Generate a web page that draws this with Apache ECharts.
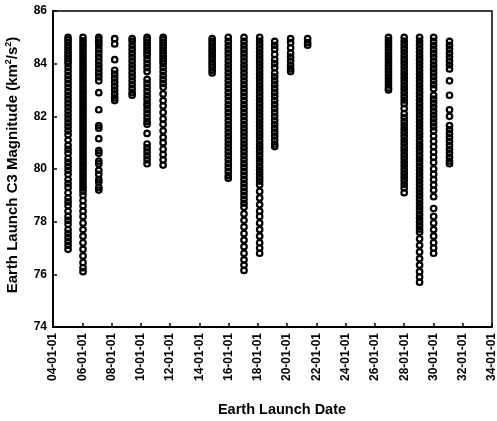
<!DOCTYPE html>
<html>
<head>
<meta charset="utf-8">
<script src="https://cdn.jsdelivr.net/npm/echarts@6/dist/echarts.min.js"></script>
<style>
html,body{margin:0;padding:0;background:#fff;}
#chart{width:497px;height:421px;}
</style>
</head>
<body>
<div id="chart"></div>
<script>
// Launch windows (date of each column of solutions)
const launchDates = ['2005-01-12','2006-01-20','2007-02-17','2008-03-20','2009-05-30','2010-06-07','2011-07-12',
  '2014-11-17','2015-12-24','2017-01-20','2018-02-15','2019-02-25','2020-03-28','2021-05-28',
  '2026-12-05','2028-01-01','2029-01-20','2030-01-05','2031-02-05'];

// Earth launch C3 (km^2/s^2) read from each column
const c3_2005 = [85.0,84.9,84.8,84.7,84.6,84.5,84.4,84.3,84.2,84.1,84.0,83.85,83.7,83.55,83.4,83.25,83.1,82.95,82.8,82.65,82.5,82.35,82.2,82.05,81.9,81.75,81.6,81.45,81.3,81.1,80.9,80.75,80.6,80.4,80.25,80.1,79.95,79.8,79.6,79.45,79.3,79.1,78.9,78.75,78.6,78.4,78.2,78.05,77.9,77.7,77.55,77.4,77.25,77.1,76.95];
const c3_2006 = [85.0,84.87,84.74,84.61,84.48,84.35,84.22,84.09,83.96,83.83,83.7,83.57,83.44,83.31,83.18,83.05,82.92,82.79,82.66,82.53,82.4,82.27,82.14,82.01,81.88,81.75,81.62,81.49,81.36,81.23,81.1,80.97,80.84,80.71,80.58,80.45,80.32,80.19,80.06,79.93,79.8,79.67,79.54,79.41,79.28,79.15,79.0,78.8,78.6,78.4,78.2,77.95,77.7,77.45,77.2,76.95,76.7,76.45,76.25,76.1];
const c3_2007 = [85.0,84.9,84.8,84.7,84.55,84.4,84.25,84.1,83.95,83.8,83.65,83.5,83.35,82.9,82.25,81.65,81.55,81.15,80.7,80.6,80.3,80.2,79.95,79.8,79.6,79.5,79.3,79.2];
const c3_2008 = [84.95,84.75,84.15,83.75,83.6,83.45,83.3,83.15,83.0,82.85,82.7,82.6];
const c3_2009 = [84.95,84.85,84.7,84.55,84.4,84.25,84.1,83.95,83.8,83.65,83.5,83.35,83.2,83.05,82.9,82.8];
const c3_2010 = [85.0,84.9,84.8,84.7,84.6,84.5,84.4,84.3,84.15,84.0,83.85,83.7,83.4,83.25,83.1,82.95,82.8,82.65,82.5,82.4,82.25,82.1,81.95,81.8,81.7,81.35,80.95,80.8,80.65,80.5,80.35,80.2];
const c3_2011 = [85.0,84.9,84.8,84.7,84.6,84.5,84.4,84.3,84.2,84.1,84.0,83.85,83.7,83.55,83.4,83.25,83.1,82.85,82.6,82.4,82.15,81.9,81.7,81.45,81.2,81.0,80.75,80.55,80.35,80.15];
const c3_2014 = [84.95,84.85,84.75,84.65,84.55,84.45,84.35,84.25,84.15,84.05,83.95,83.85,83.75,83.65];
const c3_2015 = [85.0,84.85,84.7,84.55,84.4,84.25,84.1,83.95,83.8,83.65,83.5,83.35,83.2,83.05,82.9,82.75,82.6,82.45,82.3,82.15,82.0,81.85,81.7,81.55,81.4,81.25,81.1,80.95,80.8,80.65,80.5,80.35,80.2,80.05,79.9,79.75,79.65];
const c3_2017 = [85.0,84.85,84.7,84.55,84.4,84.25,84.1,83.95,83.8,83.65,83.5,83.35,83.2,83.05,82.9,82.75,82.6,82.45,82.3,82.15,82.0,81.85,81.7,81.55,81.4,81.25,81.1,80.95,80.8,80.65,80.5,80.35,80.2,80.05,79.9,79.75,79.6,79.45,79.3,79.15,79.0,78.85,78.7,78.55,78.3,78.05,77.8,77.55,77.3,77.05,76.8,76.55,76.35,76.15];
const c3_2018 = [85.0,84.86,84.72,84.58,84.44,84.3,84.16,84.02,83.88,83.74,83.6,83.46,83.32,83.18,83.04,82.9,82.76,82.62,82.48,82.34,82.2,82.06,81.92,81.78,81.64,81.5,81.36,81.22,81.08,80.94,80.8,80.66,80.52,80.38,80.24,80.1,79.96,79.82,79.68,79.54,79.4,79.15,78.9,78.65,78.4,78.2,77.95,77.7,77.45,77.2,77.0,76.8];
const c3_2019 = [84.85,84.7,84.55,84.35,84.15,84.0,83.85,83.65,83.5,83.35,83.2,83.05,82.9,82.75,82.6,82.45,82.3,82.15,82.0,81.85,81.7,81.55,81.4,81.25,81.1,80.95,80.85];
const c3_2020 = [84.95,84.8,84.6,84.4,84.25,84.1,83.95,83.8,83.7];
const c3_2021 = [84.95,84.8,84.7];
const c3_2026 = [85.0,84.88,84.76,84.64,84.52,84.4,84.28,84.16,84.04,83.92,83.8,83.68,83.56,83.44,83.32,83.2,83.08,83.0];
const c3_2028 = [85.0,84.86,84.72,84.58,84.44,84.3,84.16,84.02,83.88,83.74,83.6,83.46,83.32,83.18,83.04,82.9,82.76,82.62,82.48,82.3,82.1,81.95,81.8,81.66,81.52,81.38,81.24,81.1,80.96,80.82,80.68,80.54,80.4,80.26,80.12,79.98,79.84,79.7,79.56,79.42,79.28,79.1];
const c3_2029 = [85.0,84.86,84.72,84.58,84.44,84.3,84.16,84.02,83.88,83.74,83.6,83.46,83.32,83.18,83.04,82.9,82.76,82.62,82.48,82.34,82.2,82.06,81.92,81.78,81.64,81.5,81.36,81.22,81.08,80.94,80.8,80.66,80.52,80.38,80.24,80.1,79.96,79.82,79.68,79.54,79.4,79.26,79.12,78.98,78.84,78.7,78.56,78.42,78.28,78.14,78.0,77.86,77.72,77.6,77.35,77.1,76.85,76.6,76.35,76.1,75.9,75.7];
const c3_2030 = [85.0,84.85,84.7,84.55,84.4,84.25,84.1,83.95,83.8,83.65,83.5,83.35,83.2,83.05,82.8,82.65,82.5,82.35,82.2,82.05,81.9,81.75,81.6,81.45,81.25,81.05,80.85,80.65,80.45,80.25,80.0,79.8,79.6,79.4,79.2,78.95,78.5,78.2,77.95,77.7,77.45,77.2,77.0,76.8];
const c3_2031 = [84.85,84.7,84.55,84.4,84.25,84.1,83.95,83.8,83.35,82.8,82.25,82.0,81.65,81.5,81.35,81.2,81.05,80.9,80.75,80.6,80.45,80.3,80.2];

const c3Columns = [c3_2005,c3_2006,c3_2007,c3_2008,c3_2009,c3_2010,c3_2011,c3_2014,c3_2015,c3_2017,c3_2018,c3_2019,c3_2020,c3_2021,c3_2026,c3_2028,c3_2029,c3_2030,c3_2031];

// x axis: years 2004..2034, tick every 2 years
const xMin = 2004, xMax = 2034, xStep = 2;
const yMin = 74, yMax = 86, yStep = 2;

function toYear(s){
  const d = new Date(s + 'T00:00:00Z');
  const y = d.getUTCFullYear();
  const a = Date.UTC(y,0,1), b = Date.UTC(y+1,0,1);
  return y + (d.getTime() - a) / (b - a);
}

const points = [];
launchDates.forEach((dt, i) => {
  const x = toYear(dt);
  c3Columns[i].forEach(v => points.push([x, v]));
});

const font = 'Liberation Sans, Arial, Helvetica, sans-serif';
const chart = echarts.init(document.getElementById('chart'), null, {renderer:'canvas'});
chart.setOption({
  animation: false,
  backgroundColor: '#fff',
  grid: {left: 53, right: 5, top: 11, bottom: 94, containLabel: false, outerBoundsMode: 'none',
    show: true, borderColor: '#000', borderWidth: 1.5, backgroundColor: 'transparent'},
  xAxis: {
    type: 'value', min: xMin, max: xMax, interval: xStep,
    name: 'Earth Launch Date', nameLocation: 'middle', nameGap: 75,
    nameTextStyle: {fontFamily: font, fontWeight: 'bold', fontSize: 14.5, color: '#000', padding: [0,0,0,19]},
    axisLine: {lineStyle: {color: '#000', width: 2}},
    axisTick: {inside: true, length: 4, lineStyle: {color: '#000', width: 1.5}},
    axisLabel: {rotate: 90, margin: 6, fontFamily: font, fontWeight: 'bold', fontSize: 12, color: '#000',
      formatter: v => String(Math.round(v) % 100).padStart(2,'0') + '-01-01'},
    splitLine: {show: false}
  },
  yAxis: {
    type: 'value', min: yMin, max: yMax, interval: yStep,
    name: 'Earth Launch C3 Magnitude (km{sup|2}/s{sup|2})', nameLocation: 'middle', nameGap: 32,
    nameTextStyle: {fontFamily: font, fontWeight: 'bold', fontSize: 15, color: '#000', padding: [0,0,0,8],
      rich: {sup: {fontFamily: font, fontWeight: 'bold', fontSize: 9, color: '#000', verticalAlign: 'top', padding: [0,0,8,0]}}},
    axisLine: {lineStyle: {color: '#000', width: 2}},
    axisTick: {inside: true, length: 4, lineStyle: {color: '#000', width: 1.5}},
    axisLabel: {margin: 6, fontFamily: font, fontWeight: 'bold', fontSize: 12, color: '#000'},
    splitLine: {show: false}
  },
  series: [{
    type: 'scatter',
    data: points,
    symbol: 'circle',
    symbolSize: 5.5,
    itemStyle: {color: 'rgba(255,255,255,0)', borderColor: '#000', borderWidth: 2.2, opacity: 1},
    emphasis: {disabled: true}
  }]
});
</script>
</body>
</html>
